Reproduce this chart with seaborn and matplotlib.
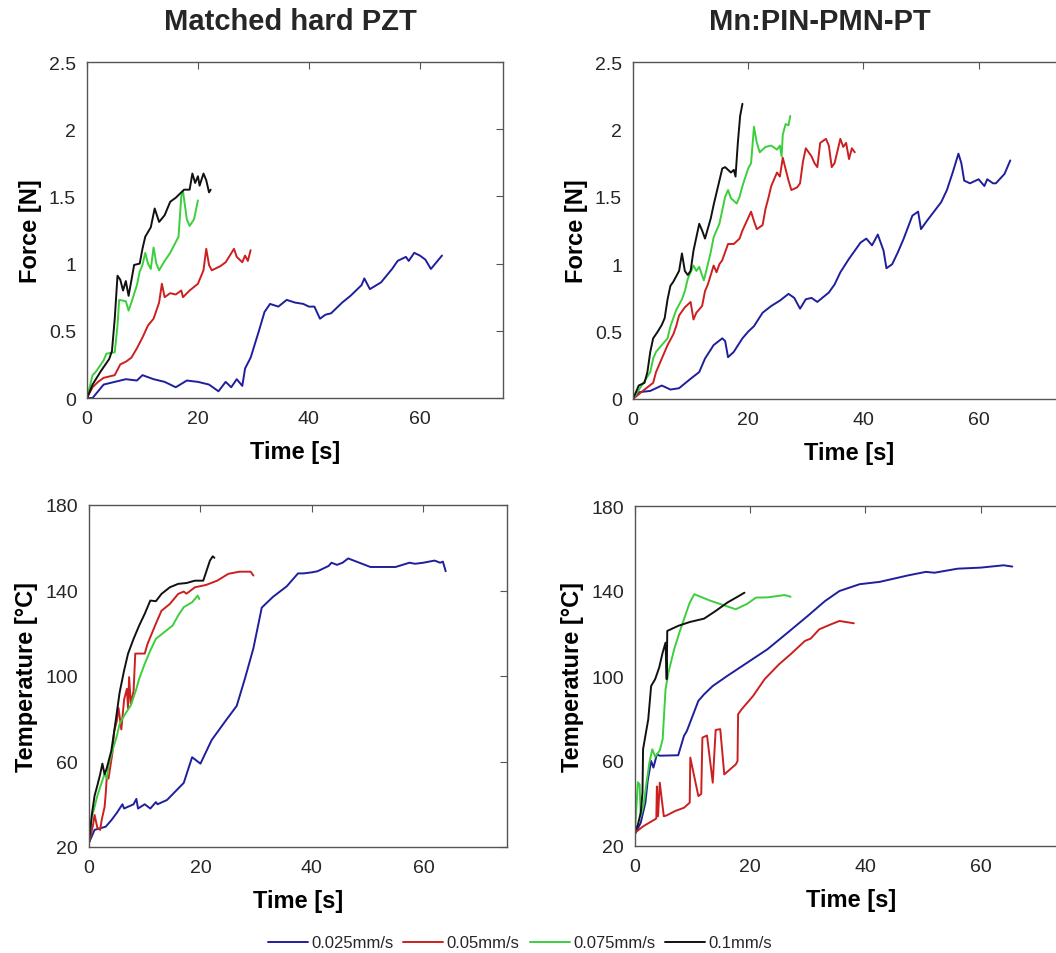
import numpy as np
import pandas as pd
import matplotlib
matplotlib.use("Agg")
import matplotlib.pyplot as plt
import seaborn as sns

sns.set_style("white")
plt.rcParams['font.family'] = ['Liberation Sans', 'DejaVu Sans']

# ---------------- data ----------------
series_labels = ["0.025mm/s", "0.05mm/s", "0.075mm/s", "0.1mm/s"]
series_colors = ["#1f1f9e", "#cc2020", "#3ccf3c", "#111111"]
panel_titles = ["Matched hard PZT", "Mn:PIN-PMN-PT"]

# Matched hard PZT - Force
pzt_f_blue_t = [0, 1, 3, 5, 7, 9, 10, 12, 14, 16, 18, 20, 22, 23.7, 25, 26, 27, 28, 28.5, 29.5, 31, 32, 33, 34.5, 36, 37.5, 39, 40, 41, 42, 43, 44, 46, 47.5, 49.5, 50, 51, 53, 55, 56, 57.5, 58, 59, 60, 61, 62, 63, 64]
pzt_f_blue_v = [0, 0.0, 0.10, 0.12, 0.14, 0.13, 0.17, 0.14, 0.12, 0.08, 0.13, 0.12, 0.1, 0.05, 0.12, 0.08, 0.14, 0.09, 0.22, 0.3, 0.5, 0.64, 0.70, 0.68, 0.73, 0.71, 0.70, 0.68, 0.68, 0.59, 0.62, 0.63, 0.71, 0.76, 0.84, 0.89, 0.81, 0.86, 0.96, 1.02, 1.05, 1.02, 1.08, 1.06, 1.03, 0.96, 1.01, 1.06]
pzt_f_red_t = [0, 1, 2, 3, 4, 5, 6, 7, 8, 9, 10, 11, 12, 13, 13.5, 14, 15, 16, 17, 17.3, 18.5, 20, 21, 21.5, 22, 22.5, 24, 25, 26.5, 27, 28, 28.5, 29, 29.5]
pzt_f_red_v = [0, 0.08, 0.12, 0.15, 0.16, 0.17, 0.25, 0.27, 0.30, 0.37, 0.45, 0.54, 0.59, 0.71, 0.85, 0.75, 0.78, 0.77, 0.80, 0.75, 0.80, 0.85, 0.95, 1.11, 0.99, 0.95, 0.98, 1.01, 1.11, 1.05, 1.01, 1.06, 1.02, 1.10]
pzt_f_green_t = [0, 1, 1.5, 3, 3.5, 5, 5.5, 5.8, 7, 7.5, 8, 9, 9.5, 10, 10.5, 11, 11.5, 12, 12.5, 13, 14, 15, 16, 16.5, 17, 17.3, 18, 18.5, 19.3, 20]
pzt_f_green_v = [0, 0.17, 0.19, 0.28, 0.33, 0.34, 0.54, 0.73, 0.72, 0.65, 0.71, 0.84, 0.94, 0.99, 1.08, 1.0, 0.96, 1.12, 1.0, 0.95, 1.02, 1.08, 1.16, 1.2, 1.5, 1.54, 1.33, 1.28, 1.33, 1.47]
pzt_f_black_t = [0, 1, 2.5, 3, 4, 4.5, 5, 5.5, 6, 6.5, 7, 7.5, 8.5, 9.5, 10, 10.5, 11.5, 12.2, 13, 14, 15, 16, 17.5, 18.5, 19, 19.5, 20, 20.3, 21, 21.5, 22, 22.3]
pzt_f_black_v = [0, 0.1, 0.2, 0.23, 0.29, 0.35, 0.59, 0.91, 0.88, 0.80, 0.87, 0.76, 0.99, 1.0, 1.11, 1.2, 1.27, 1.41, 1.31, 1.36, 1.46, 1.49, 1.55, 1.55, 1.67, 1.6, 1.65, 1.58, 1.67, 1.62, 1.53, 1.55]

# Mn:PIN-PMN-PT - Force
pin_f_blue_t = [0, 1, 3, 5, 6.5, 8, 10, 11.5, 12.5, 14, 15.5, 16, 16.5, 17.5, 19, 20, 21, 22.5, 24, 25.5, 27, 28, 29, 30, 31, 32, 34, 35, 36, 37.5, 39.5, 40.5, 41.5, 42.5, 43.5, 44, 45, 46, 47, 48.5, 49.5, 50, 51, 53.5, 54.5, 55.5, 56.5, 57, 57.5, 58.5, 60, 61, 61.5, 62.5, 63, 64.5, 65.5]
pin_f_blue_v = [0, 0.05, 0.06, 0.10, 0.07, 0.08, 0.15, 0.20, 0.30, 0.40, 0.45, 0.43, 0.31, 0.35, 0.45, 0.50, 0.54, 0.64, 0.69, 0.73, 0.78, 0.75, 0.67, 0.74, 0.75, 0.72, 0.79, 0.85, 0.94, 1.04, 1.16, 1.19, 1.14, 1.22, 1.10, 0.97, 1.0, 1.09, 1.19, 1.36, 1.39, 1.26, 1.32, 1.46, 1.55, 1.68, 1.82, 1.75, 1.62, 1.60, 1.63, 1.58, 1.63, 1.60, 1.60, 1.67, 1.77]
pin_f_red_t = [0, 2, 3.5, 4, 5, 6, 7, 7.5, 8, 9, 10, 10.5, 11, 12, 12.5, 13, 14, 14.5, 15, 15.5, 16.5, 17.5, 18.5, 19, 20.5, 21, 21.5, 22.5, 23, 23.5, 24, 25, 25.5, 26, 27, 27.5, 28.5, 29, 29.5, 30, 31, 31.5, 32, 32.5, 33.5, 34, 34.5, 35, 36, 36.5, 37, 37.5, 38, 38.5]
pin_f_red_v = [0, 0.07, 0.12, 0.20, 0.30, 0.40, 0.48, 0.54, 0.62, 0.68, 0.72, 0.59, 0.64, 0.69, 0.80, 0.85, 0.99, 0.94, 1.0, 1.03, 1.15, 1.15, 1.19, 1.25, 1.39, 1.32, 1.26, 1.29, 1.41, 1.49, 1.58, 1.68, 1.65, 1.79, 1.62, 1.55, 1.57, 1.60, 1.76, 1.86, 1.80, 1.75, 1.72, 1.90, 1.93, 1.88, 1.72, 1.75, 1.93, 1.87, 1.90, 1.78, 1.86, 1.83]
pin_f_green_t = [0, 1.5, 3, 3.5, 4, 5, 6, 6.5, 7.5, 8.5, 9, 9.5, 10.5, 11, 11.5, 12.3, 13, 13.5, 14, 15, 16, 16.5, 17, 18, 18.5, 19, 20, 20.5, 21, 21.5, 22, 23, 24, 25, 25.5, 25.8, 26, 26.5, 27, 27.3]
pin_f_green_v = [0, 0.10, 0.20, 0.30, 0.35, 0.40, 0.45, 0.54, 0.66, 0.74, 0.80, 0.89, 0.99, 0.95, 0.98, 0.88, 1.0, 1.09, 1.2, 1.3, 1.5, 1.55, 1.49, 1.45, 1.5, 1.58, 1.71, 1.75, 2.02, 1.9, 1.83, 1.87, 1.88, 1.85, 1.88, 1.80, 1.96, 2.04, 2.03, 2.10]
pin_f_black_t = [0, 1, 2, 2.5, 3, 3.5, 4.3, 5, 5.5, 6, 6.5, 7, 8, 8.5, 9, 9.5, 10, 10.5, 11, 11.5, 12, 12.5, 13.5, 14, 14.5, 15.5, 16, 17, 17.5, 17.8, 18.2, 18.6, 19]
pin_f_black_v = [0, 0.10, 0.12, 0.20, 0.35, 0.45, 0.50, 0.55, 0.60, 0.74, 0.84, 0.87, 0.95, 1.08, 0.95, 0.92, 0.95, 1.10, 1.20, 1.30, 1.25, 1.19, 1.34, 1.44, 1.53, 1.71, 1.72, 1.68, 1.70, 1.65, 1.90, 2.10, 2.19]

# Matched hard PZT - Temperature
pzt_t_blue_t = [0, 1, 3, 4, 5, 6, 6.3, 8, 8.5, 8.8, 10, 11, 12, 12.3, 14, 17, 18.5, 20, 22, 24.5, 26.5, 28, 29.5, 31, 33, 35.5, 37.5, 38.5, 40, 41, 43, 43.5, 44.5, 45.5, 46.5, 47.5, 50.5, 55, 57.5, 58.5, 60, 62, 63, 63.5, 64]
pzt_t_blue_v = [22, 28, 29.5, 32.5, 36, 40, 38, 40, 42.5, 38, 40, 38, 41, 40, 42, 50, 62, 59, 70, 79, 86, 99, 113, 132, 137, 142, 148, 148, 148.5, 149, 151.5, 153, 152, 153, 155, 154, 151, 151, 153, 152.5, 153, 154, 153, 153.5, 149]
pzt_t_red_t = [0, 0.7, 1, 1.5, 2, 2.3, 2.8, 3, 3.2, 3.5, 4.2, 4.5, 5, 5.3, 5.8, 6.3, 6.8, 7, 7.2, 7.5, 8, 8.3, 10, 10.5, 12, 13, 14.5, 16, 17, 17.5, 19, 21, 23, 25, 27, 29, 29.5]
pzt_t_red_v = [22, 30, 35, 29, 28, 33, 38.7, 45, 53, 52, 64, 74, 79, 85, 75, 89, 94, 85, 99.5, 87, 93, 110.5, 110.5, 115, 124.5, 130.5, 133.7, 138.4, 139.5, 138.5, 141.5, 142.6, 144.6, 147.8, 148.8, 148.8, 147]
pzt_t_green_t = [0, 0.5, 1, 1.5, 2, 2.8, 3.2, 3.5, 4.2, 5, 5.5, 6.5, 7.5, 8.5, 9, 10, 11, 12, 13.5, 15, 16, 17, 18.5, 19.5, 19.8]
pzt_t_green_v = [22, 34, 38.7, 44, 48, 54.3, 52, 58, 65, 72, 77.6, 82.3, 86.2, 94, 98.7, 105.7, 111.9, 117.4, 120.5, 123.6, 128.3, 132.2, 134.5, 137.6, 136]
pzt_t_black_t = [0, 0.5, 1, 1.5, 2, 2.4, 2.8, 3.2, 4, 4.5, 5, 5.5, 6.3, 7, 8, 9, 10, 11, 12, 13, 14.5, 16, 17.5, 19, 20.5, 21, 21.7, 22.2, 22.5]
pzt_t_black_v = [22, 35, 44, 48.8, 54, 59, 54, 57, 65, 73.7, 83, 92.4, 102.6, 110.4, 117.4, 123.6, 129.1, 135.3, 135, 138.4, 141.5, 143.1, 143.5, 144.6, 144.6, 148.5, 154, 156, 155.3]

# Mn:PIN-PMN-PT - Temperature
pin_t_blue_t = [0, 1, 1.8, 2.2, 2.8, 3.2, 3.8, 4.3, 7.5, 8.5, 9, 10, 11, 12, 13.5, 16, 19.5, 23, 26.5, 30, 33, 35.5, 39, 42.5, 47.5, 50.5, 52, 56, 60, 64, 65.5]
pin_t_blue_v = [25.5, 31, 40.4, 50.6, 60, 56.9, 63.1, 62.5, 62.7, 71.8, 74.1, 81.2, 88.3, 91.4, 95.3, 100, 106.3, 112.6, 120.4, 128.3, 135.3, 140, 143.2, 144.3, 147.4, 149, 148.6, 150.5, 151, 152.1, 151.5]
pin_t_red_t = [0, 1.5, 3.5, 3.7, 3.8, 4.0, 4.3, 5.0, 5.5, 7, 8.5, 9.5, 9.6, 11, 11.5, 11.7, 12.5, 13.5, 14, 14.8, 15.5, 17.5, 17.8, 17.9, 18.5, 20.5, 22.5, 25, 27, 29.5, 30.5, 32, 34, 35.5, 38]
pin_t_red_v = [26.3, 29.4, 32.6, 33, 48, 34, 49.8, 34, 34.4, 36.5, 38, 40.4, 61.6, 43.5, 44.5, 71, 72, 49.8, 74.6, 75, 53.7, 58.4, 60, 82, 84.3, 90.6, 98.5, 105.5, 110.2, 116.5, 117.6, 122, 124.3, 125.9, 124.8]
pin_t_green_t = [0, 0.5, 0.8, 1, 1.5, 2, 2.5, 3, 3.5, 4.3, 4.8, 5, 5.3, 5.8, 6.8, 7.8, 8.7, 9.5, 10.3, 13, 17.5, 19.5, 21, 23, 26, 27]
pin_t_green_v = [27, 50, 49, 34, 39.6, 49.8, 59.2, 65.5, 62, 65, 70.2, 79.6, 93.7, 101.6, 112.6, 121.2, 128.3, 134.5, 138.5, 135.5, 131.4, 134, 136.9, 137, 138.1, 137.3]
pin_t_black_t = [0, 0.5, 1, 1.3, 1.4, 1.8, 2.3, 2.8, 3.5, 4.2, 4.8, 5.3, 5.5, 5.6, 7.5, 9.5, 12, 14, 16, 18, 19]
pin_t_black_v = [27, 30, 35.7, 45.1, 65.5, 71.8, 79.6, 95.3, 98.5, 104, 111, 115.7, 98.5, 121.2, 123.6, 125.4, 127, 130.6, 134.5, 137.6, 139.2]

x_ticks = [0, 20, 40, 60]
force_ticks = [0, 0.5, 1, 1.5, 2, 2.5]
force_ticklabels = ["0", "0.5", "1", "1.5", "2", "2.5"]
temp_ticks = [20, 60, 100, 140, 180]
temp_ticklabels = ["20", "60", "100", "140", "180"]

panels = {
    "pzt_force": [(pzt_f_blue_t, pzt_f_blue_v), (pzt_f_red_t, pzt_f_red_v), (pzt_f_green_t, pzt_f_green_v), (pzt_f_black_t, pzt_f_black_v)],
    "pin_force": [(pin_f_blue_t, pin_f_blue_v), (pin_f_red_t, pin_f_red_v), (pin_f_green_t, pin_f_green_v), (pin_f_black_t, pin_f_black_v)],
    "pzt_temp": [(pzt_t_blue_t, pzt_t_blue_v), (pzt_t_red_t, pzt_t_red_v), (pzt_t_green_t, pzt_t_green_v), (pzt_t_black_t, pzt_t_black_v)],
    "pin_temp": [(pin_t_blue_t, pin_t_blue_v), (pin_t_red_t, pin_t_red_v), (pin_t_green_t, pin_t_green_v), (pin_t_black_t, pin_t_black_v)],
}

W, H = 1056, 954
fig = plt.figure(figsize=(W / 100, H / 100), dpi=100)

def rect(left, top, right, bottom):
    return [left / W, 1 - bottom / H, (right - left) / W, (bottom - top) / H]

ax_pos = {
    "pzt_force": rect(87, 63, 503, 399),
    "pin_force": rect(633, 63, 1065, 400),
    "pzt_temp": rect(89, 506, 507, 848),
    "pin_temp": rect(635, 507, 1067, 847),
}

frame_col = "#555555"
text_col = "#262626"

handles = []
for key, series in panels.items():
    ax = fig.add_axes(ax_pos[key])
    for (t, v), lab, col in zip(series, series_labels, series_colors):
        df = pd.DataFrame({"t": t, "v": v})
        sns.lineplot(data=df, x="t", y="v", ax=ax, color=col, sort=False,
                     estimator=None, linewidth=1.4, label=lab, legend=False)
    ax.set_xlim(0, 75)
    ax.set_xticks(x_ticks)
    ax.set_xticklabels([str(x) for x in x_ticks])
    if "force" in key:
        ax.set_ylim(0, 2.5)
        ax.set_yticks(force_ticks)
        ax.set_yticklabels(force_ticklabels)
        ax.set_ylabel("Force [N]", fontsize=17, fontweight="bold", color="black", labelpad=5)
    else:
        ax.set_ylim(20, 180)
        ax.set_yticks(temp_ticks)
        ax.set_yticklabels(temp_ticklabels)
        ax.set_ylabel("Temperature [°C]", fontsize=17, fontweight="bold", color="black", labelpad=5)
    ax.set_xlabel("Time [s]", fontsize=17, fontweight="bold", color="black", labelpad=9)
    ax.tick_params(direction="in", top=True, right=True, length=5, width=0.8,
                   labelsize=14, colors=frame_col, labelcolor=text_col)
    ax.tick_params(axis="x", pad=9)
    ax.tick_params(axis="y", pad=8)
    for s in ax.spines.values():
        s.set_color(frame_col)
        s.set_linewidth(1.0)
        s.set_visible(True)
    if key == "pzt_force":
        handles = ax.get_lines()[:4]

fig.text(290 / W, 1 - 22 / H, panel_titles[0], fontsize=21, fontweight="bold",
         ha="center", va="center")
fig.text(820 / W, 1 - 22 / H, panel_titles[1], fontsize=21, fontweight="bold",
         ha="center", va="center")

fig.legend(handles, series_labels, loc="center", bbox_to_anchor=(520 / W, 1 - 944 / H),
           ncol=4, frameon=False, fontsize=12, handlelength=2.4, handletextpad=0.2,
           columnspacing=0.6)

fig.savefig("out.png", dpi=100)
